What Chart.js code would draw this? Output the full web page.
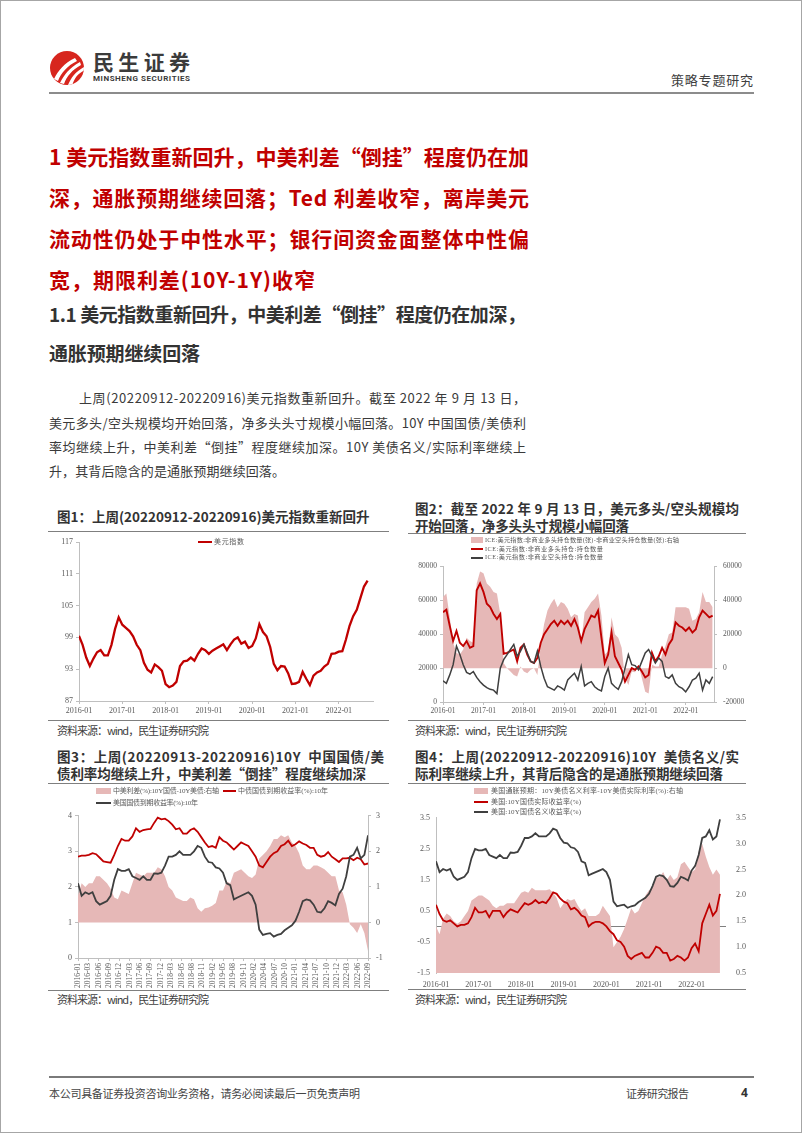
<!DOCTYPE html>
<html><head><meta charset="utf-8">
<script src="https://cdn.jsdelivr.net/npm/chart.js@4.4.0/dist/chart.umd.min.js"></script>
<style>
body{margin:0;background:#fff;}
#page{position:relative;width:802px;height:1133px;box-sizing:border-box;border:1px solid #a6a6a6;overflow:hidden;font-family:"Noto Sans CJK SC","Noto Sans",sans-serif;background:#fff;}
.a{position:absolute;white-space:nowrap;}
.h1{color:#c00000;font-weight:700;font-size:21px;line-height:21px;left:48px;}
.h2{color:#333;font-weight:700;font-size:19px;line-height:19px;left:48px;}
.p{color:#3a3a3a;font-size:13px;line-height:13px;}
.t{color:#333;font-weight:700;font-size:13.5px;line-height:14px;}
.src{color:#404040;font-size:11px;line-height:11px;}
.rule{position:absolute;height:1px;background:#7f7f7f;}
.lg{position:absolute;white-space:nowrap;color:#595959;font-family:"Liberation Serif","Noto Sans CJK SC",serif;}
.sw{position:absolute;}
canvas{position:absolute;}
</style></head>
<body>
<div id="page">
  <svg class="a" style="left:48px;top:49px" width="38" height="38" viewBox="0 0 38 38">
    <defs><clipPath id="cc"><circle cx="18" cy="18" r="17"/></clipPath></defs>
    <circle cx="18" cy="18" r="17" fill="#d7261e"/>
    <g clip-path="url(#cc)" fill="#fff">
      <path d="M5 29 C 9 21, 15 13, 26 8 L 28 11 C 18 16, 12 23, 9 31 Z"/>
      <path d="M11 33 C 15 25, 20 18, 31 12 L 32 15 C 23 20, 18 26, 15 34 Z"/>
      <path d="M19 35 C 22 28, 26 22, 35 17 L 36 20 C 28 24, 25 29, 23 36 Z"/>
    </g>
  </svg>
  <div class="a" data-w="97" style="left:92px;top:50px;font-size:21px;line-height:21px;font-weight:700;color:#3b3b3b;">民生证券</div>
  <div class="a" data-w="97" style="left:92px;top:74px;font-family:Roboto,'Noto Sans',sans-serif;font-size:8px;line-height:8px;font-weight:700;color:#3b3b3b;">MINSHENG SECURITIES</div>
  <div class="a" data-w="82" style="left:670px;top:72px;font-size:13px;line-height:13px;color:#404040;">策略专题研究</div>
  <div class="rule" style="left:48px;top:91px;width:705px;height:2px;background:#8c8c8c;"></div>

  <div class="a h1" data-w="480" style="top:144.5px">1 美元指数重新回升，中美利差“倒挂”程度仍在加</div>
  <div class="a h1" data-w="480" style="top:185.5px">深，通胀预期继续回落；Ted 利差收窄，离岸美元</div>
  <div class="a h1" data-w="480" style="top:226.5px">流动性仍处于中性水平；银行间资金面整体中性偏</div>
  <div class="a h1" data-w="266" style="top:267.5px">宽，期限利差(10Y-1Y)收窄</div>

  <div class="a h2" data-w="477" style="top:302.5px">1.1 美元指数重新回升，中美利差“倒挂”程度仍在加深，</div>
  <div class="a h2" data-w="151" style="top:341.5px">通胀预期继续回落</div>

  <div class="a p" data-w="447" style="left:78px;top:390px">上周(20220912-20220916)美元指数重新回升。截至 2022 年 9 月 13 日，</div>
  <div class="a p" data-w="477" style="left:48px;top:414.5px">美元多头/空头规模均开始回落，净多头头寸规模小幅回落。10Y 中国国债/美债利</div>
  <div class="a p" data-w="477" style="left:48px;top:438.5px">率均继续上升，中美利差“倒挂”程度继续加深。10Y 美债名义/实际利率继续上</div>
  <div class="a p" data-w="236" style="left:48px;top:463px">升，其背后隐含的是通胀预期继续回落。</div>

  <!-- figure 1 -->
  <div class="a t" style="left:56px;top:507.5px">图1：上周(20220912-20220916)美元指数重新回升</div>
  <div class="rule" style="left:47px;top:530px;width:341px;"></div>
  <div class="rule" style="left:47px;top:719px;width:341px;"></div>
  <div class="a src" data-w="152" style="left:56px;top:723.5px">资料来源：wind，民生证券研究院</div>

  <!-- figure 2 -->
  <div class="a t" data-w="324" style="left:414px;top:500px">图2：截至 2022 年 9 月 13 日，美元多头/空头规模均</div>
  <div class="a t" data-w="214" style="left:414px;top:517px">开始回落，净多头头寸规模小幅回落</div>
  <div class="rule" style="left:407px;top:532px;width:338px;"></div>
  <div class="rule" style="left:407px;top:719px;width:338px;"></div>
  <div class="a src" data-w="152" style="left:414px;top:723.5px">资料来源：wind，民生证券研究院</div>

  <!-- figure 3 -->
  <div class="a t" data-w="327" style="left:56px;top:748px">图3：上周(20220913-20220916)10Y&nbsp;&nbsp;中国国债/美</div>
  <div class="a t" data-w="309" style="left:56px;top:765px">债利率均继续上升，中美利差“倒挂”程度继续加深</div>
  <div class="rule" style="left:47px;top:782px;width:341px;"></div>
  <div class="rule" style="left:47px;top:989px;width:341px;"></div>
  <div class="a src" data-w="152" style="left:56px;top:992.5px">资料来源：wind，民生证券研究院</div>

  <!-- figure 4 -->
  <div class="a t" data-w="324" style="left:414px;top:748px">图4：上周(20220912-20220916)10Y&nbsp;&nbsp;美债名义/实</div>
  <div class="a t" data-w="308" style="left:414px;top:765px">际利率继续上升，其背后隐含的是通胀预期继续回落</div>
  <div class="rule" style="left:407px;top:782px;width:338px;"></div>
  <div class="rule" style="left:407px;top:988px;width:338px;"></div>
  <div class="a src" data-w="152" style="left:414px;top:992.5px">资料来源：wind，民生证券研究院</div>

  <canvas id="c1" width="345" height="190" style="left:40px;top:530px"></canvas>
  <canvas id="c2" width="355" height="165" style="left:405px;top:555px"></canvas>
  <canvas id="c3" width="350" height="185" style="left:40px;top:805px"></canvas>
  <canvas id="c4" width="355" height="182" style="left:405px;top:805px"></canvas>

  <!-- legends -->
  <div class="sw" style="left:197px;top:540px;width:14px;height:2px;background:#c00000"></div>
  <div class="lg" data-w="30" style="left:213px;top:537.5px;font-size:7px;line-height:7px">美元指数</div>

  <div class="sw" style="left:470px;top:535.5px;width:12px;height:6px;background:rgb(230,184,183)"></div>
  <div class="lg" data-w="194" style="left:484px;top:535.5px;font-size:6.2px;line-height:6.5px">ICE:美元指数:非商业多头持仓数量(张)-非商业空头持仓数量(张):右轴</div>
  <div class="sw" style="left:470px;top:547px;width:12px;height:2px;background:#c00000"></div>
  <div class="lg" data-w="118" style="left:484px;top:544.8px;font-size:6.2px;line-height:6.5px">ICE:美元指数:非商业多头持仓:持仓数量</div>
  <div class="sw" style="left:470px;top:555.5px;width:12px;height:2px;background:#3f3f3f"></div>
  <div class="lg" data-w="118" style="left:484px;top:553.3px;font-size:6.2px;line-height:6.5px">ICE:美元指数:非商业空头持仓:持仓数量</div>

  <div class="sw" style="left:95px;top:787px;width:15px;height:6px;background:rgb(230,184,183)"></div>
  <div class="lg" data-w="106" style="left:112px;top:786.5px;font-size:7px;line-height:7px">中美利差(%):10Y国债-10Y美债:右轴</div>
  <div class="sw" style="left:222px;top:789px;width:13px;height:2px;background:#c00000"></div>
  <div class="lg" data-w="90" style="left:237px;top:786.5px;font-size:7px;line-height:7px">中债国债到期收益率(%):10年</div>
  <div class="sw" style="left:95px;top:801px;width:15px;height:2px;background:#3f3f3f"></div>
  <div class="lg" data-w="85" style="left:112px;top:798.5px;font-size:7px;line-height:7px">美国国债到期收益率(%):10年</div>

  <div class="sw" style="left:473px;top:787px;width:14px;height:6px;background:rgb(230,184,183)"></div>
  <div class="lg" data-w="192" style="left:490px;top:786.5px;font-size:7px;line-height:7px">美国通胀预期：10Y美债名义利率-10Y美债实际利率(%):右轴</div>
  <div class="sw" style="left:473px;top:800px;width:14px;height:2px;background:#c00000"></div>
  <div class="lg" data-w="90" style="left:490px;top:797.5px;font-size:7px;line-height:7px">美国:10Y国债实际收益率(%)</div>
  <div class="sw" style="left:473px;top:810px;width:14px;height:2px;background:#3f3f3f"></div>
  <div class="lg" data-w="90" style="left:490px;top:807.5px;font-size:7px;line-height:7px">美国:10Y国债名义收益率(%)</div>

  <!-- footer -->
  <div class="rule" style="left:48px;top:1075px;width:705px;height:1.5px;background:#7a7a7a;"></div>
  <div class="a" data-w="311" style="left:48px;top:1087px;font-size:11px;line-height:11px;color:#444;">本公司具备证券投资咨询业务资格，请务必阅读最后一页免责声明</div>
  <div class="a" data-w="63" style="left:625px;top:1087px;font-size:11px;line-height:11px;color:#444;">证券研究报告</div>
  <div class="a" style="left:740px;top:1086px;font-size:12px;line-height:12px;font-weight:700;color:#333;font-family:'Noto Sans',sans-serif;">4</div>
</div>

<script>
// ---------- data (monthly readings, 2016-01 ... 2022-09) ----------
const yearLabels = ['2016-01','2017-01','2018-01','2019-01','2020-01','2021-01','2022-01'];
const fig3Ticks = ['2016-01','2016-03','2016-06','2016-09','2016-12','2017-03','2017-06','2017-09','2017-12','2018-03','2018-05','2018-08','2018-11','2019-02','2019-05','2019-08','2019-11','2020-02','2020-04','2020-07','2020-10','2021-01','2021-04','2021-07','2021-10','2021-12','2022-03','2022-06','2022-09'];

const dxy = [99.3,97.6,95.2,93.6,95.0,96.2,96.6,95.6,95.6,97.6,100.6,102.8,
 101.4,100.8,100.2,99.2,97.6,96.6,94.2,92.9,92.4,93.9,93.4,92.7,
 90.2,89.6,89.9,90.6,93.6,94.5,94.6,95.2,94.6,95.9,96.9,96.6,
 95.9,96.5,96.9,97.3,97.7,96.6,97.7,98.6,99.0,97.8,98.2,97.0,
 97.4,98.8,101.5,100.0,99.2,97.2,94.0,92.8,93.6,93.5,92.2,90.2,
 90.3,90.6,92.5,91.2,90.0,91.8,92.4,92.7,93.5,94.0,95.9,96.0,
 96.3,96.4,98.6,101.2,103.0,104.2,106.4,108.6,109.7];

const longPos = [53000,54500,45000,36000,42000,35000,33000,36000,32000,33000,66000,70000,
 65000,58000,56000,52000,49000,52000,28500,29000,30000,31000,24000,32000,
 34000,28000,24000,23000,26000,35000,40000,43000,46000,48000,45000,48000,
 46000,48000,45000,49000,44000,36000,43000,47000,51000,50000,54000,38000,
 23000,28000,41000,27000,23000,19000,12000,16000,20000,19000,21000,18000,
 14500,16000,29000,24000,27000,32000,28000,34000,37000,47000,45000,44000,
 42000,44000,41000,43000,50000,54000,52000,50000,51000];

const shortPos = [12500,11000,16000,22000,33000,28000,22000,17500,16500,18000,14500,12000,
 10000,8500,7500,7000,5000,20000,25000,28000,31000,34000,27000,30000,
 34000,29000,24000,23000,30000,21000,14000,9000,8000,7000,9500,8500,
 7000,13000,15000,17000,13000,21000,9500,11000,12000,9000,7500,6500,
 15000,20000,11000,9000,7500,12000,20000,28000,22000,21500,19000,24000,
 29000,31000,27000,23000,26000,24000,15000,14000,16000,11000,9000,8000,
 6000,9000,13000,14000,17000,7000,13000,11000,15000];

const netPos = [42000,44000,30000,15000,9000,8000,11000,18000,16000,15000,50000,57000,
 56000,50000,48000,45000,44000,32000,3000,0,-2000,-4000,-5000,1000,
 -2000,-3000,-1000,0,-4000,14000,26000,34000,38000,41000,36000,39000,
 38000,35000,30000,32000,31000,15000,33000,36000,39000,41000,44000,31000,
 8000,10000,30000,20000,18000,12000,-6000,-10000,-2000,-2500,2000,-6000,
 -14000,-15000,2000,1000,1000,8000,13000,20000,21000,36000,36000,36000,
 36000,35000,28000,29000,33000,45000,39000,39000,36000];

const cn10y = [2.85,2.88,2.88,2.9,2.95,2.92,2.82,2.72,2.7,2.68,2.9,3.15,
 3.35,3.3,3.3,3.42,3.65,3.55,3.6,3.62,3.63,3.8,3.95,3.9,
 3.92,3.85,3.75,3.62,3.65,3.5,3.5,3.6,3.65,3.55,3.4,3.25,
 3.12,3.15,3.1,3.4,3.3,3.25,3.15,3.05,3.15,3.25,3.2,3.15,
 3.0,2.85,2.6,2.55,2.7,2.85,2.95,3.0,3.15,3.2,3.3,3.15,
 3.2,3.28,3.22,3.18,3.1,3.1,2.9,2.85,2.88,2.98,2.85,2.78,
 2.7,2.8,2.8,2.82,2.75,2.82,2.78,2.63,2.66];

const us10y = [2.1,1.75,1.85,1.8,1.85,1.6,1.5,1.55,1.6,1.75,2.2,2.5,
 2.45,2.45,2.5,2.3,2.25,2.2,2.3,2.2,2.2,2.38,2.37,2.4,
 2.6,2.85,2.85,2.9,3.0,2.9,2.9,2.9,3.0,3.15,3.1,2.85,
 2.7,2.68,2.55,2.52,2.4,2.1,2.05,1.65,1.7,1.75,1.8,1.85,
 1.75,1.5,0.8,0.65,0.68,0.7,0.6,0.65,0.68,0.78,0.85,0.92,
 1.05,1.3,1.6,1.65,1.62,1.5,1.3,1.28,1.4,1.6,1.55,1.48,
 1.8,1.95,2.3,2.85,2.9,3.1,2.8,2.9,3.45];

const cnUsSpread = [0.75,1.1,1.0,1.1,1.1,1.3,1.3,1.2,1.1,0.95,0.7,0.65,
 0.9,0.85,0.8,1.1,1.4,1.35,1.3,1.4,1.4,1.4,1.55,1.5,
 1.3,1.0,0.9,0.7,0.65,0.6,0.6,0.7,0.65,0.4,0.3,0.4,
 0.42,0.47,0.55,0.9,0.9,1.15,1.1,1.4,1.45,1.5,1.4,1.3,
 1.25,1.35,1.8,1.9,2.0,2.15,2.35,2.35,2.45,2.4,2.45,2.25,
 2.15,1.95,1.6,1.5,1.5,1.6,1.6,1.55,1.5,1.4,1.3,1.3,
 0.9,0.85,0.5,-0.05,-0.15,-0.3,-0.05,-0.3,-0.8];

const usReal = [0.7,0.4,0.2,0.15,0.2,0.1,0.0,0.05,0.05,0.1,0.3,0.6,
 0.45,0.45,0.5,0.3,0.5,0.5,0.5,0.3,0.45,0.55,0.5,0.45,
 0.6,0.75,0.7,0.75,0.85,0.75,0.8,0.75,0.9,1.1,1.05,0.9,
 0.8,0.75,0.55,0.6,0.5,0.35,0.3,0.0,0.1,0.15,0.15,0.1,
 0.0,-0.15,-0.25,-0.45,-0.5,-0.65,-0.95,-1.05,-0.95,-0.9,-0.85,-1.0,
 -1.0,-0.85,-0.65,-0.7,-0.85,-0.85,-1.1,-1.05,-0.95,-1.0,-1.1,-1.0,
 -0.7,-0.55,-0.8,0.1,0.4,0.7,0.35,0.5,1.05];

const breakeven = [1.4,1.25,1.55,1.65,1.6,1.5,1.45,1.5,1.6,1.7,1.9,1.95,
 2.0,2.0,1.95,1.9,1.8,1.75,1.8,1.8,1.85,1.85,1.85,1.95,
 2.05,2.08,2.05,2.15,2.1,2.1,2.1,2.1,2.12,2.05,1.95,1.75,
 1.85,1.93,1.9,1.93,1.8,1.7,1.75,1.6,1.6,1.6,1.65,1.8,
 1.7,1.6,1.0,1.1,1.2,1.35,1.55,1.75,1.65,1.7,1.85,2.0,
 2.1,2.15,2.35,2.35,2.45,2.3,2.4,2.3,2.35,2.6,2.65,2.55,
 2.45,2.5,2.85,3.0,2.75,2.55,2.4,2.5,2.4];

const fig4LeftTicks = [-1.5,-0.5,0,0.5,1.5,2.5,3.5];

// ---------- text fitting ----------
document.querySelectorAll('[data-w]').forEach(el => {
  const target = +el.dataset.w;
  el.style.letterSpacing = '0px';
  const r = document.createRange(); r.selectNodeContents(el);
  const w = r.getBoundingClientRect().width;
  const n = [...el.textContent].length;
  if (n > 1) el.style.letterSpacing = ((target - w) / (n - 1)) + 'px';
});

// ---------- charts ----------
const RED = '#c00000', BLK = '#3f3f3f', PINK = 'rgb(230,184,183)';
const AX = '#bfbfbf', TXT = '#595959';
const tf = (s) => ({family: "'Liberation Serif','Times New Roman',serif", size: s});
const pts = arr => arr.map((v, i) => ({x: i, y: v}));
const base = {animation: false, responsive: false, events: [],
  plugins: {legend: {display: false}, tooltip: {enabled: false}}};

function xLin(max, labels, positions, h, opt) {
  opt = opt || {};
  return {
    type: 'linear', min: 0, max: max,
    afterBuildTicks: s => { s.ticks = positions.map(v => ({value: v})); },
    afterFit: s => { s.height = h; },
    ticks: {autoSkip: false, maxRotation: opt.rot || 0, minRotation: opt.rot || 0,
      padding: opt.pad == null ? 2 : opt.pad, font: tf(opt.fs || 8), color: TXT,
      callback: (v, i) => labels[i]},
    grid: {display: opt.ticksOn !== false, drawOnChartArea: false, tickLength: 3, color: AX},
    border: {display: opt.border !== false, color: AX}
  };
}
function yLin(pos, min, max, step, w, fmt, opt) {
  opt = opt || {};
  return {
    type: 'linear', position: pos, min: min, max: max,
    afterFit: s => { s.width = w; },
    ticks: {stepSize: step, padding: opt.pad || 3, font: tf(opt.fs || 8), color: TXT,
      callback: fmt},
    grid: {display: opt.ticksOn !== false, drawOnChartArea: false, tickLength: 3, color: AX},
    border: {display: opt.border !== false, color: AX}
  };
}
const yearPos = yearLabels.map((_, i) => i * 12);

// Figure 1
new Chart(document.getElementById('c1'), {
  type: 'line',
  data: {datasets: [{label: '美元指数', data: pts(dxy), borderColor: RED, borderWidth: 2.3,
    pointRadius: 0, tension: 0}]},
  options: Object.assign({}, base, {
    layout: {padding: {top: 11, right: 13, left: 0, bottom: 0}},
    scales: {
      x: xLin(81.5, yearLabels, yearPos, 20),
      y: yLin('left', 87, 117, 6, 38, v => String(v))
    }
  })
});

// Figure 2
new Chart(document.getElementById('c2'), {
  type: 'line',
  data: {datasets: [
    {label: 'ICE:美元指数:非商业多头持仓数量(张)-非商业空头持仓数量(张):右轴', data: pts(netPos),
      yAxisID: 'y2', borderWidth: 0, backgroundColor: PINK, fill: 'origin', pointRadius: 0, order: 3},
    {label: 'ICE:美元指数:非商业多头持仓:持仓数量', data: pts(longPos), yAxisID: 'y',
      borderColor: RED, borderWidth: 1.9, pointRadius: 0, order: 2},
    {label: 'ICE:美元指数:非商业空头持仓:持仓数量', data: pts(shortPos), yAxisID: 'y',
      borderColor: BLK, borderWidth: 1.5, pointRadius: 0, order: 1}
  ]},
  options: Object.assign({}, base, {
    layout: {padding: {top: 7, right: 0, left: 0, bottom: 0}},
    scales: {
      x: xLin(80.4, yearLabels, yearPos, 19, {fs: 7.5}),
      y: yLin('left', 0, 80000, 20000, 37, v => String(v), {fs: 7.5}),
      y2: yLin('right', -20000, 60000, 20000, 47, v => String(v), {fs: 7.5, pad: 6})
    }
  })
});

// Figure 3
new Chart(document.getElementById('c3'), {
  type: 'line',
  data: {datasets: [
    {label: '中美利差(%):10Y国债-10Y美债:右轴', data: pts(cnUsSpread), yAxisID: 'y2',
      borderWidth: 0, backgroundColor: PINK, fill: 'origin', pointRadius: 0, order: 3},
    {label: '中债国债到期收益率(%):10年', data: pts(cn10y), yAxisID: 'y',
      borderColor: RED, borderWidth: 1.8, pointRadius: 0, order: 2},
    {label: '美国国债到期收益率(%):10年', data: pts(us10y), yAxisID: 'y',
      borderColor: BLK, borderWidth: 1.8, pointRadius: 0, order: 1}
  ]},
  options: Object.assign({}, base, {
    layout: {padding: {top: 6, right: 0, left: 0, bottom: 0}},
    scales: {
      x: xLin(80, fig3Ticks, fig3Ticks.map((_, i) => i * 80 / 28), 33, {rot: 90, fs: 7.5, pad: 2}),
      y: yLin('left', 0, 4, 1, 37, v => String(v)),
      y2: yLin('right', -1, 3, 1, 23, v => String(v), {pad: 5})
    }
  })
});

// Figure 4
const y4 = yLin('left', -1.5, 3.5, 1, 30, v => (v === 0 ? '' : v.toFixed(1)));
y4.afterBuildTicks = s => { s.ticks = fig4LeftTicks.map(v => ({value: v})); };
y4.grid = {display: true, drawOnChartArea: true, drawTicks: false,
  color: c => (c.tick && c.tick.value === 0) ? '#808080' : 'rgba(0,0,0,0)'};
y4.ticks.padding = 6;
new Chart(document.getElementById('c4'), {
  type: 'line',
  data: {datasets: [
    {label: '美国通胀预期：10Y美债名义利率-10Y美债实际利率(%):右轴', data: pts(breakeven), yAxisID: 'y2',
      borderWidth: 0, backgroundColor: PINK, fill: 'start', pointRadius: 0, order: 3},
    {label: '美国:10Y国债实际收益率(%)', data: pts(usReal), yAxisID: 'y',
      borderColor: RED, borderWidth: 1.8, pointRadius: 0, order: 2},
    {label: '美国:10Y国债名义收益率(%)', data: pts(us10y), yAxisID: 'y',
      borderColor: BLK, borderWidth: 1.8, pointRadius: 0, order: 1}
  ]},
  options: Object.assign({}, base, {
    layout: {padding: {top: 5, right: 0, left: 0, bottom: 0}},
    scales: {
      x: xLin(81.7, yearLabels, yearPos, 15, {ticksOn: false, border: false, pad: 4}),
      y: y4,
      y2: yLin('right', 0.5, 3.5, 0.5, 35, v => v.toFixed(1), {ticksOn: false, border: false, pad: 7})
    }
  })
});
</script>
</body></html>
